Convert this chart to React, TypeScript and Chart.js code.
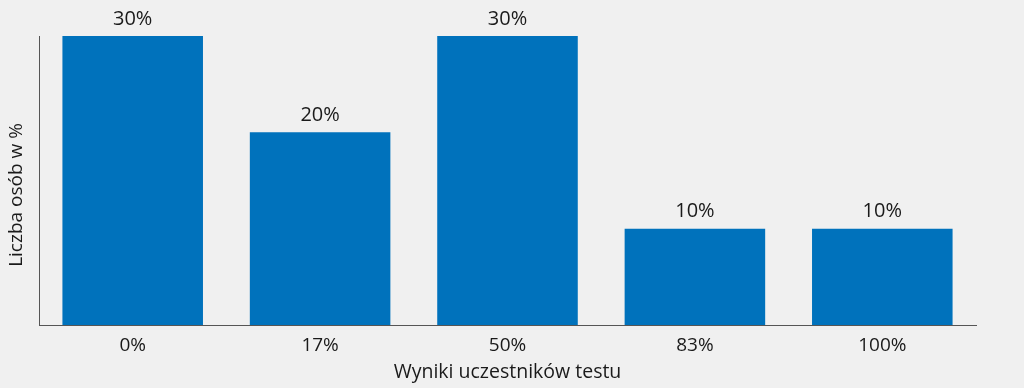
import React, { useEffect, useRef } from "react";
import { Chart, registerables } from "chart.js";

Chart.register(...registerables);

const categories = ["0%", "17%", "50%", "83%", "100%"];
const values = [30, 20, 30, 10, 10];
const valueLabels = ["30%", "20%", "30%", "10%", "10%"];
const xTitle = "Wyniki uczestników testu";
const yTitle = "Liczba osób w %";

const FONT = "'Open Sans', 'Noto Sans', sans-serif";
const TEXT = "#1a1a1a";

const labelsPlugin = {
  id: "labelsPlugin",
  afterDatasetsDraw(chart: any) {
    const { ctx } = chart;
    const meta = chart.getDatasetMeta(0);
    ctx.save();
    ctx.fillStyle = TEXT;
    ctx.font = `20px ${FONT}`;
    ctx.textAlign = "center";
    ctx.textBaseline = "middle";
    meta.data.forEach((bar: any, i: number) => {
      ctx.fillText(valueLabels[i], bar.x, bar.y - 17);
    });
    // y axis title
    ctx.font = `19px ${FONT}`;
    ctx.translate(17, 195);
    ctx.rotate(-Math.PI / 2);
    ctx.fillText(yTitle, 0, 0);
    ctx.restore();
  },
};

export default function App() {
  const ref = useRef<HTMLCanvasElement>(null);
  useEffect(() => {
    document.body.style.margin = "0";
    document.body.style.background = "#f0f0f0";
    const chart = new Chart(ref.current!, {
      type: "bar",
      data: {
        labels: categories,
        datasets: [
          {
            data: values,
            backgroundColor: "#0072bc",
            barPercentage: 0.75,
            categoryPercentage: 1,
          },
        ],
      },
      options: {
        responsive: false,
        animation: false,
        layout: { padding: { top: 36, right: 48, left: 0, bottom: 0 } },
        plugins: { legend: { display: false }, tooltip: { enabled: false } },
        scales: {
          x: {
            grid: { display: false, drawTicks: false },
            border: { display: true, color: "#555", width: 1 },
            ticks: { color: TEXT, font: { family: FONT, size: 19 }, padding: 9 },
            title: {
              display: true,
              text: xTitle,
              color: TEXT,
              font: { family: FONT, size: 19.5 },
              padding: { top: 0, bottom: 4 },
            },
            afterFit: (s: any) => {
              s.height = 63;
            },
          },
          y: {
            min: 0,
            max: 30,
            grid: { display: false, drawTicks: false },
            border: { display: true, color: "#555", width: 1 },
            ticks: { display: false },
            afterFit: (s: any) => {
              s.width = 39;
            },
          },
        },
      },
      plugins: [labelsPlugin],
    });
    return () => chart.destroy();
  }, []);
  return (
    <div style={{ width: 1024, height: 388, background: "#f0f0f0" }}>
      <canvas ref={ref} width={1024} height={388} />
    </div>
  );
}
